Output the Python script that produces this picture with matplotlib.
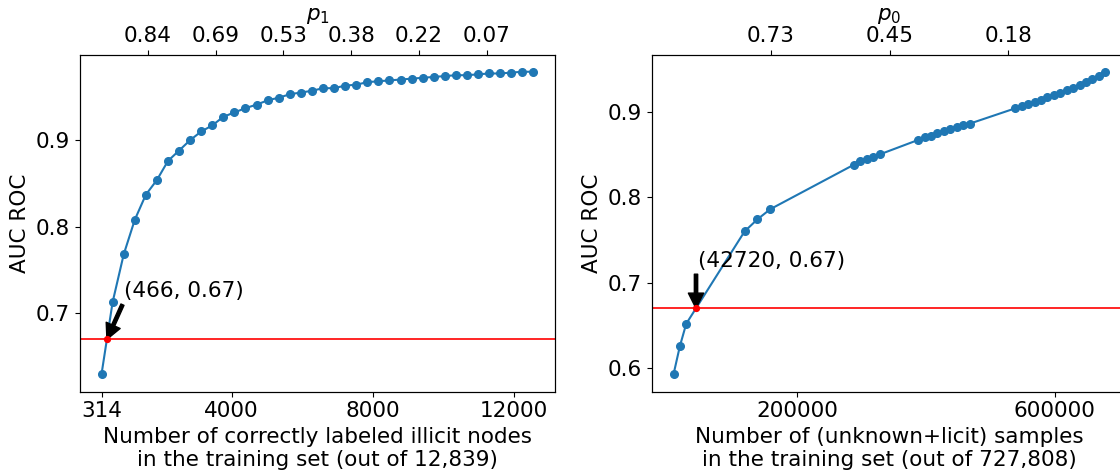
import matplotlib.pyplot as plt

# left panel: correctly labeled illicit nodes kept in training
illicit_n = [314, 628, 942, 1256, 1570, 1884, 2198, 2512, 2826, 3140,
             3454, 3768, 4082, 4396, 4710, 5024, 5338, 5652, 5966, 6280,
             6594, 6908, 7222, 7536, 7850, 8164, 8478, 8792, 9106, 9420,
             9734, 10048, 10362, 10676, 10990, 11304, 11618, 11932, 12246, 12560]
illicit_auc = [0.630, 0.713, 0.768, 0.808, 0.837, 0.854, 0.876, 0.888, 0.900, 0.910,
               0.917, 0.927, 0.932, 0.937, 0.941, 0.946, 0.949, 0.953, 0.955, 0.957,
               0.960, 0.960, 0.963, 0.964, 0.967, 0.968, 0.969, 0.970, 0.971, 0.972,
               0.973, 0.974, 0.975, 0.975, 0.976, 0.977, 0.977, 0.978, 0.979, 0.979]
illicit_xticks = [314, 4000, 8000, 12000]
illicit_yticks = [0.7, 0.8, 0.9]
p1_pos = [1617, 3546, 5467, 7396, 9316, 11245]
p1_labels = ["0.84", "0.69", "0.53", "0.38", "0.22", "0.07"]
illicit_cut = (466, 0.67)

# right panel: (unknown+licit) samples kept in training
licit_n = [7800, 17700, 27500, 118200, 137900, 158100,
           288000, 298000, 308000, 318000, 328000,
           388000, 398000, 408000, 418000, 428000, 438000, 448000, 458000, 468000,
           539000, 549000, 559000, 569000, 579000, 589000, 599000, 609000,
           619000, 629000, 639000, 649000, 659000, 669000, 679000]
licit_auc = [0.593, 0.626, 0.652, 0.760, 0.774, 0.786,
             0.838, 0.842, 0.845, 0.847, 0.850,
             0.867, 0.870, 0.872, 0.875, 0.877, 0.880, 0.882, 0.884, 0.886,
             0.904, 0.907, 0.909, 0.911, 0.914, 0.917, 0.919, 0.922,
             0.925, 0.928, 0.931, 0.935, 0.938, 0.942, 0.947]
licit_xticks = [200000, 600000]
licit_yticks = [0.6, 0.7, 0.8, 0.9]
p0_pos = [158600, 343600, 528000]
p0_labels = ["0.73", "0.45", "0.18"]
licit_cut = (42720, 0.67)

plt.rcParams["font.size"] = 15.5


def plot_panel(ax, x, y, cut, xticks, yticks, top_pos, top_labels, top_name,
               xlabel, ylim, text_xy, tail_xy):
    ax.plot(x, y, "o-", color="#1f77b4", ms=5.5, lw=1.5)
    ax.axhline(cut[1], color="red", lw=1.2)
    ax.plot(cut[0], cut[1], "o", color="red", ms=4.2, zorder=5)
    ax.annotate("", xy=cut, xytext=tail_xy,
                arrowprops=dict(facecolor="black", edgecolor="black",
                                width=2.4, headwidth=11, headlength=11, shrink=0.0))
    ax.text(text_xy[0], text_xy[1], f"({cut[0]}, {cut[1]})",
            ha="left", va="baseline")
    ax.set_xticks(xticks)
    ax.set_yticks(yticks)
    ax.set_ylim(ylim)
    ax.set_xlabel(xlabel)
    ax.set_ylabel("AUC ROC")
    top = ax.twiny()
    top.set_xlim(ax.get_xlim())
    top.set_xticks(top_pos)
    top.set_xticklabels(top_labels)
    top.set_xlabel(top_name)


fig = plt.figure(figsize=(11.2, 4.71), dpi=100)
ax1 = fig.add_axes([0.0714, 0.1684, 0.4241, 0.7142])
ax2 = fig.add_axes([0.5821, 0.1684, 0.4241, 0.7142])

plot_panel(ax1, illicit_n, illicit_auc, illicit_cut, illicit_xticks, illicit_yticks,
           p1_pos, p1_labels, "$p_1$",
           "Number of correctly labeled illicit nodes\nin the training set (out of 12,839)",
           (0.6095, 0.998), (956, 0.719), (907, 0.710))

plot_panel(ax2, licit_n, licit_auc, licit_cut, licit_xticks, licit_yticks,
           p0_pos, p0_labels, "$p_0$",
           "Number of (unknown+licit) samples\nin the training set (out of 727,808)",
           (0.5726, 0.966), (45700, 0.718), (42720, 0.710))

fig.savefig("out.png", dpi=100)
